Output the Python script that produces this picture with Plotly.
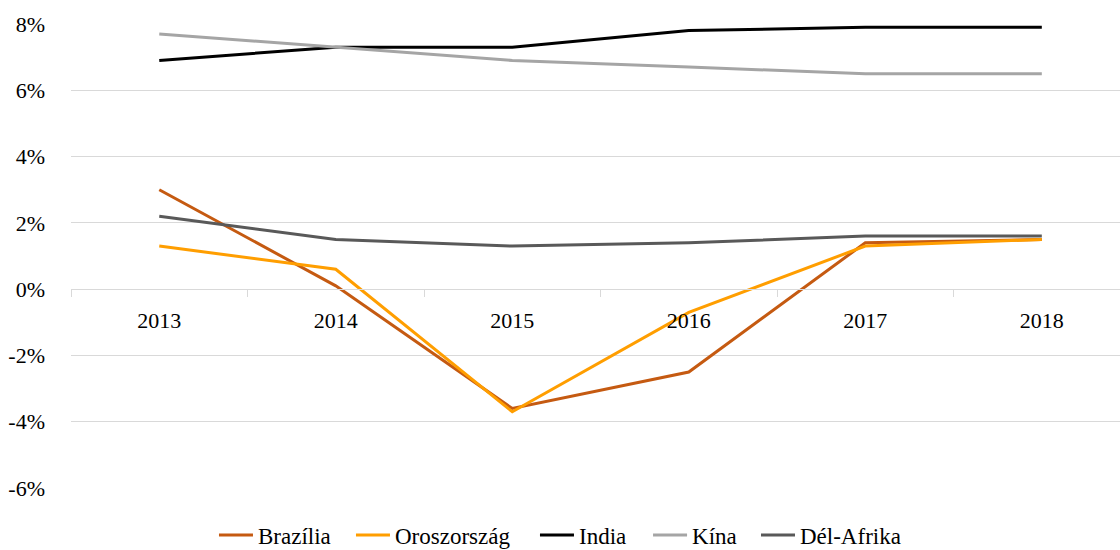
import plotly.graph_objects as go

# GDP growth of BRICS countries, %
YEARS = ["2013", "2014", "2015", "2016", "2017", "2018"]
BRAZILIA = [3.0, 0.1, -3.6, -2.5, 1.4, 1.5]
OROSZORSZAG = [1.3, 0.6, -3.7, -0.7, 1.3, 1.5]
INDIA = [6.9, 7.3, 7.3, 7.8, 7.9, 7.9]
KINA = [7.7, 7.3, 6.9, 6.7, 6.5, 6.5]
DEL_AFRIKA = [2.2, 1.5, 1.3, 1.4, 1.6, 1.6]

Y_TICKS = [-6, -4, -2, 0, 2, 4, 6, 8]
Y_LABELS = [f"{v}%" for v in Y_TICKS]

SERIES = [
    ("Brazília", BRAZILIA, "#C55A11"),
    ("Oroszország", OROSZORSZAG, "#FF9E00"),
    ("India", INDIA, "#000000"),
    ("Kína", KINA, "#A5A5A5"),
    ("Dél-Afrika", DEL_AFRIKA, "#595959"),
]

FONT = "Liberation Serif, serif"
GRID = "#D9D9D9"

# one small legend per series, so the entries can be spaced like the original
LEGEND_X = [0.1363, 0.2669, 0.4423, 0.5501, 0.6530]
LEGEND_Y = -0.099

fig = go.Figure()
legends = {}
for i, (name, vals, col) in enumerate(SERIES):
    key = "legend" if i == 0 else f"legend{i + 1}"
    fig.add_trace(go.Scatter(
        x=YEARS, y=vals, name=name, mode="lines",
        line=dict(color=col, width=3),
        legend=key,
    ))
    legends[key] = dict(
        orientation="h", x=LEGEND_X[i], xanchor="left",
        y=LEGEND_Y, yanchor="middle",
        bgcolor="rgba(0,0,0,0)", borderwidth=0,
        font=dict(family=FONT, size=23, color="#000000"),
        itemwidth=34,
    )

fig.update_layout(
    width=1120, height=550,
    paper_bgcolor="white", plot_bgcolor="white",
    margin=dict(l=71, r=0, t=23, b=61, autoexpand=False),
    font=dict(family=FONT, size=22, color="#000000"),
    showlegend=True,
    **legends,
)

fig.update_xaxes(
    type="category",
    range=[-0.5, 5.443],
    anchor="free", position=6.03 / 14.06,
    automargin=False,
    showline=True, linecolor=GRID, linewidth=1,
    ticks="outside", tickson="boundaries", ticklen=7, tickcolor=GRID,
    showgrid=False, zeroline=False,
    ticklabelstandoff=11,
    tickfont=dict(family=FONT, size=22),
)
fig.update_yaxes(
    range=[-6.03, 8.03],
    tickmode="array", tickvals=Y_TICKS, ticktext=Y_LABELS,
    automargin=False,
    showgrid=True, gridcolor=GRID, gridwidth=1,
    zeroline=False, showline=False,
    ticks="", ticklabelstandoff=25,
    tickfont=dict(family=FONT, size=22),
)

fig.write_html(
    "out.html",
    config={"displayModeBar": False},
    post_script="document.body.style.margin='0';document.body.style.overflow='hidden';",
)
